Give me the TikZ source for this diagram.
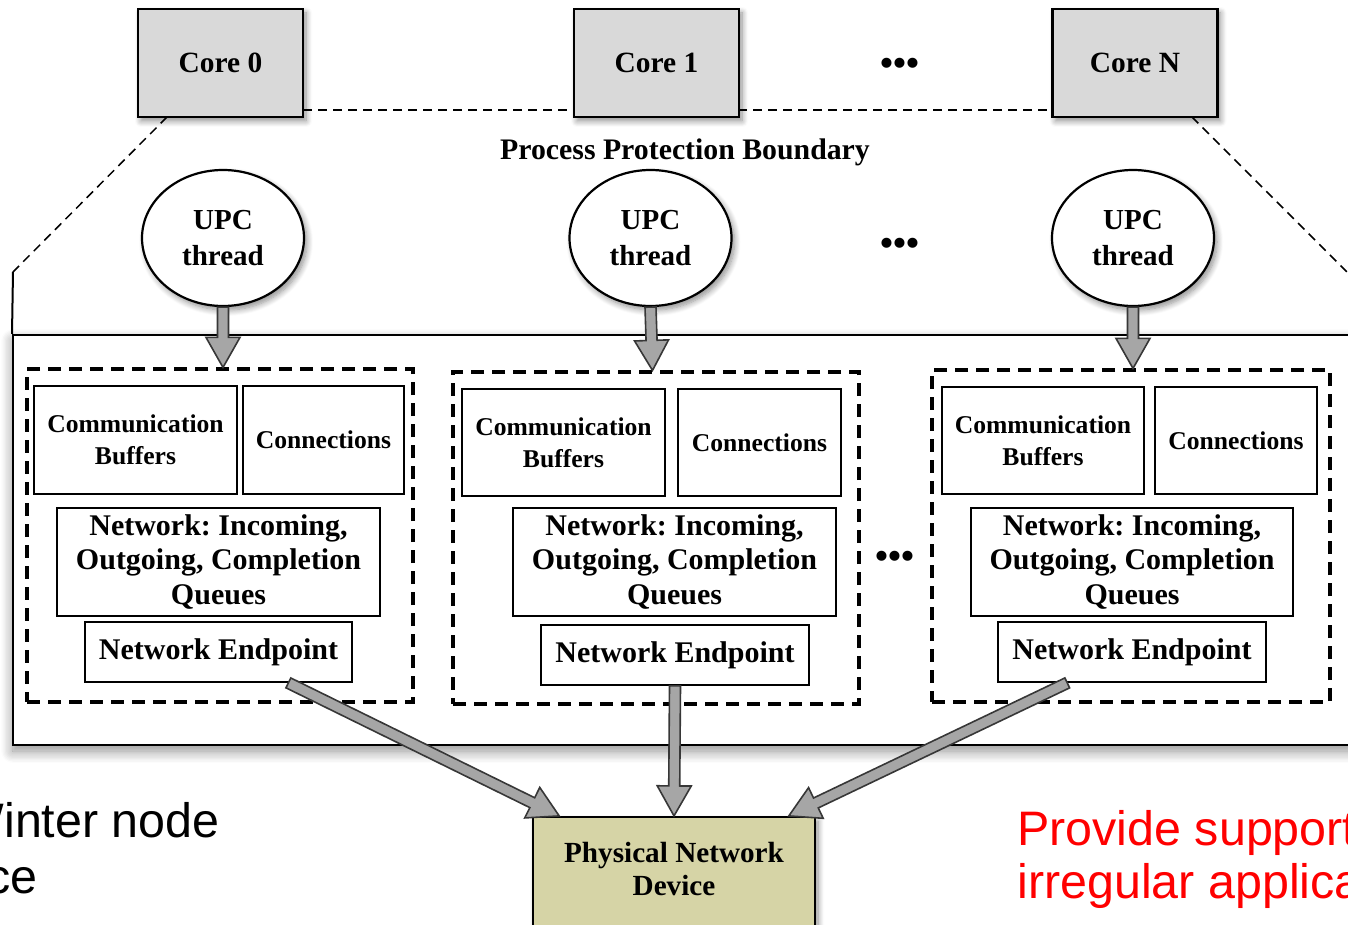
\documentclass[tikz,border=0pt]{standalone}
\usepackage{fontspec}
\setmainfont{Liberation Serif}
\newfontfamily\slidefont{Liberation Sans}
\usetikzlibrary{calc,shapes.geometric,shadows.blur}
\frenchspacing

\definecolor{corefill}{RGB}{217,217,217}
\definecolor{devfill}{RGB}{214,212,166}
\definecolor{arrowfill}{RGB}{166,166,166}
\definecolor{arrowline}{RGB}{55,55,55}
\definecolor{slidered}{RGB}{255,0,0}

% wide grey block arrow from #1 to #2
\newcommand\blockarrow[2]{%
  \coordinate (ba-h) at ($(#2)!15pt!(#1)$);
  \draw[blockarr]
    ($(#1)!2.75pt!90:(#2)$) -- ($(ba-h)!2.75pt!90:(#2)$) --
    ($(ba-h)!8.5pt!90:(#2)$) -- (#2) -- ($(ba-h)!8.5pt!-90:(#2)$) --
    ($(ba-h)!2.75pt!-90:(#2)$) -- ($(#1)!2.75pt!-90:(#2)$) -- cycle;
}

\tikzset{
  softshadow/.style={blur shadow={shadow xshift=1.5pt, shadow yshift=-2pt,
      shadow blur radius=3pt, shadow blur steps=8, shadow opacity=45}},
  corebox/.style={draw, line width=1.2pt, fill=corefill, inner sep=0pt,
      minimum width=82.5pt, minimum height=54pt, softshadow,
      font=\bfseries\fontsize{14.7}{17}\selectfont},
  thread/.style={ellipse, draw, line width=1.1pt, fill=white, inner sep=0pt,
      minimum width=81pt, minimum height=68pt, align=center, softshadow,
      font=\bfseries\fontsize{14.5}{18}\selectfont},
  groupbox/.style={draw, line width=1.6pt, dash pattern=on 6.5pt off 4pt,
      inner sep=0pt},
  partbox/.style={draw, line width=0.9pt, fill=white, inner sep=0pt,
      align=center},
  smalltext/.style={font=\bfseries\fontsize{12.8}{16}\selectfont},
  bigtext/.style={font=\bfseries\fontsize{15}{17.25}\selectfont},
  thindash/.style={line width=0.75pt, dash pattern=on 4.5pt off 3pt},
  blockarr/.style={fill=arrowfill, draw=arrowline, line width=0.8pt,
      line join=miter},
  ellipsis/.style={font=\bfseries\fontsize{18.5}{20}\selectfont, inner sep=0pt},
  slidetext/.style={font=\slidefont\fontsize{24.2}{28}\selectfont, inner sep=0pt}
}

\begin{document}
\begin{tikzpicture}[x=0.5pt, y=-0.5pt]
\useasboundingbox (0,0) rectangle (1348,925);
\clip (0,0) rectangle (1348,925);

% ends of the protection boundary
\coordinate (c0r) at (303,110);
\coordinate (cNl) at (1052,110);
\coordinate (c0d) at (167,117);
\coordinate (cNd) at (1192,117);
\coordinate (bl) at (13,272);
\coordinate (br) at (1357,282);

% process protection boundary (behind the cores)
\draw[thindash] (c0r) -- (cNl);
\draw[thindash] (c0d) -- (bl);
\draw[thindash] (cNd) -- (br);

% cores
\node[corebox] (c0) at (220.5,63) {Core 0};
\node[corebox] (c1) at (656.5,63) {Core 1};
\node[corebox] (cN) at (1135,63) {Core N};

\node[ellipsis] (dots1) at (900,67) {•••};
\node[ellipsis] (dots2) at (900,247) {•••};

\node[font=\bfseries\fontsize{14.9}{17}\selectfont] (ppb) at (685,152) {Process Protection Boundary};

% process container
\node[draw, line width=1pt, fill=white, minimum width=672pt, minimum height=205pt,
      inner sep=0pt, blur shadow={shadow xshift=0pt, shadow yshift=-3pt,
      shadow blur radius=6pt, shadow blur steps=10, shadow opacity=45}]
      (outer) at (685,540) {};
\draw[line width=1pt] (bl) -- (outer.north west);
\draw[line width=1pt] (br) -- (outer.north east);

% UPC threads
\node[thread] (u0) at (223,238) {UPC\\thread};
\node[thread] (u1) at (650.5,238) {UPC\\thread};
\node[thread] (u2) at (1133,238) {UPC\\thread};

% per-thread endpoint groups
\node[groupbox, minimum width=193pt, minimum height=166.5pt] (g0) at (220,535.5) {};
\node[groupbox, minimum width=203pt, minimum height=166pt] (g1) at (656,538) {};
\node[groupbox, minimum width=199pt, minimum height=166pt] (g2) at (1131,536) {};

\node[ellipsis] (dots3) at (895,560) {•••};

% group 0
\node[partbox, smalltext, minimum width=101.5pt, minimum height=54pt] (b0) at (135.5,440) {Communication\\Buffers};
\node[partbox, smalltext, minimum width=80.5pt, minimum height=54pt] (n0) at (323.5,440) {Connections};
\node[partbox, bigtext, minimum width=161.5pt, minimum height=54pt] (q0) at (218.5,562) {Network: Incoming,\\Outgoing, Completion\\Queues};
\node[partbox, bigtext, minimum width=133.5pt, minimum height=30pt] (e0) at (218.5,652) {Network Endpoint};

% group 1
\node[partbox, smalltext, minimum width=101.5pt, minimum height=53.5pt] (b1) at (563.5,442.5) {Communication\\Buffers};
\node[partbox, smalltext, minimum width=81.5pt, minimum height=53.5pt] (n1) at (759.5,442.5) {Connections};
\node[partbox, bigtext, minimum width=161.5pt, minimum height=54pt] (q1) at (674.5,562) {Network: Incoming,\\Outgoing, Completion\\Queues};
\node[partbox, bigtext, minimum width=134pt, minimum height=30pt] (e1) at (675,655) {Network Endpoint};

% group N
\node[partbox, smalltext, minimum width=101pt, minimum height=53.5pt] (b2) at (1043,440.5) {Communication\\Buffers};
\node[partbox, smalltext, minimum width=81pt, minimum height=53.5pt] (n2) at (1236,440.5) {Connections};
\node[partbox, bigtext, minimum width=161pt, minimum height=54pt] (q2) at (1132,562) {Network: Incoming,\\Outgoing, Completion\\Queues};
\node[partbox, bigtext, minimum width=134pt, minimum height=30pt] (e2) at (1132,652) {Network Endpoint};

% physical device (runs past the lower edge)
\node[draw, line width=1.1pt, fill=devfill, inner sep=0pt, minimum width=141pt,
      minimum height=60pt, softshadow,
      label={[align=center, yshift=3.75pt,
              font=\bfseries\fontsize{14.6}{16.5}\selectfont]center:Physical Network\\Device}]
      (dev) at (674,877) {};

% threads to their groups
\coordinate (t0) at (u0.south |- g0.north);
\coordinate (t1) at ($(u1.south |- g1.north)+(2,0)$);
\coordinate (t2) at (u2.south |- g2.north);
\blockarrow{u0.south}{t0}
\blockarrow{u1.south}{t1}
\blockarrow{u2.south}{t2}

% endpoints to the device
\coordinate (s0) at ($(e0.south west)!0.76!(e0.south east)$);
\coordinate (s2) at ($(e2.south west)!0.26!(e2.south east)$);
\coordinate (d0) at ($(dev.north west)!0.096!(dev.north east)$);
\coordinate (d2) at ($(dev.north west)!0.904!(dev.north east)$);
\blockarrow{s0}{d0}
\blockarrow{e1.south}{dev.north}
\blockarrow{s2}{d2}

% slide text around the figure
\node[slidetext, anchor=base east] (wn) at (220,837) {Winter node};
\node[slidetext, anchor=base east] (ce) at (38,893) {ce};
\node[slidetext, text=slidered, anchor=base west] (ps) at (1017,845) {Provide support};
\node[slidetext, text=slidered, anchor=base west] (ia) at (1017,898) {irregular applica};
\end{tikzpicture}
\end{document}
